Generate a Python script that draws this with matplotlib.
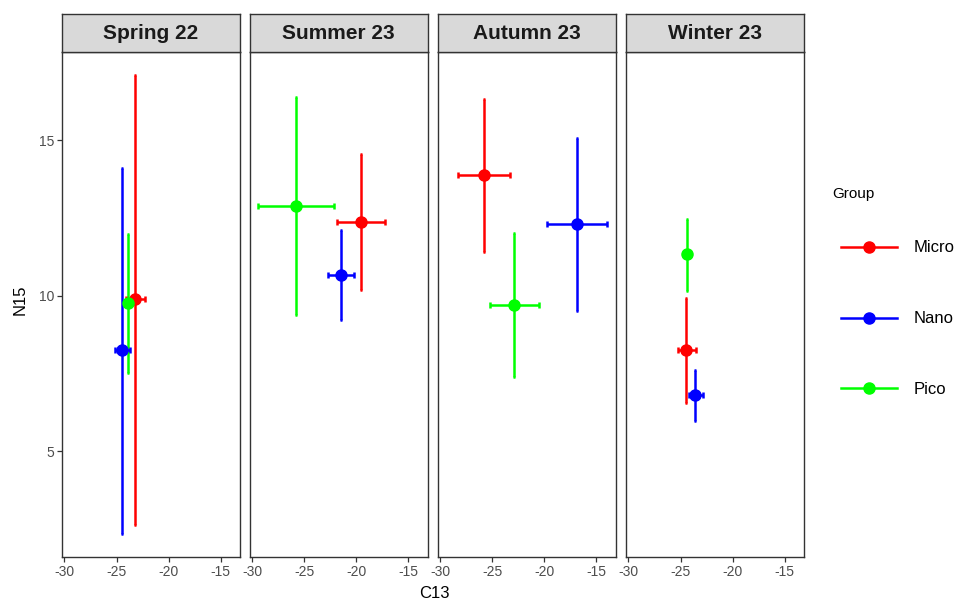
import numpy as np
import matplotlib
matplotlib.use("Agg")
import matplotlib.pyplot as plt
from matplotlib.lines import Line2D

plt.rcParams["font.family"] = ["Liberation Sans", "DejaVu Sans"]
plt.rcParams["axes.unicode_minus"] = False

seasons = ["Spring 22", "Summer 23", "Autumn 23", "Winter 23"]
groups = ["Micro", "Nano", "Pico"]
colors = {"Micro": "#FF0000", "Nano": "#0000FF", "Pico": "#00FF00"}

# one row per season x group (Micro, Nano, Pico)
season_col = ["Spring 22"] * 3 + ["Summer 23"] * 3 + ["Autumn 23"] * 3 + ["Winter 23"] * 3
group_col = groups * 4
c13_mean = [-23.24, -24.43, -23.87, -19.57, -21.44, -25.81, -25.81, -16.81, -22.86, -24.43, -23.58, -24.40]
c13_low = [-24.10, -25.16, -24.10, -21.88, -22.74, -29.46, -28.29, -19.69, -25.21, -25.20, -24.20, -24.65]
c13_high = [-22.30, -23.71, -23.60, -17.22, -20.17, -22.10, -23.24, -13.92, -20.49, -23.55, -22.85, -24.15]
n15_mean = [9.89, 8.24, 9.78, 12.39, 10.68, 12.89, 13.89, 12.32, 9.71, 8.24, 6.80, 11.33]
n15_low = [2.61, 2.33, 7.53, 10.20, 9.22, 9.37, 11.41, 9.50, 7.37, 6.56, 5.98, 10.17]
n15_high = [17.11, 14.13, 11.98, 14.56, 12.11, 16.41, 16.33, 15.08, 12.03, 9.94, 7.61, 12.47]

# ggplot-style 5% expansion of the shared scales
xr = max(c13_high) - min(c13_low)
xlim = (min(c13_low) - 0.05 * xr, max(c13_high) + 0.05 * xr)
yr = max(n15_high) - min(n15_low)
ylim = (min(n15_low) - 0.05 * yr, max(n15_high) + 0.05 * yr)

W, H = 965, 599
fig = plt.figure(figsize=(W / 100, H / 100), dpi=100, facecolor="white")

lefts = [62, 249.5, 437.5, 626]
pw = 178
top, bottom = 52, 557
strip_top = 13.5
edge = "#333333"

for i, season in enumerate(seasons):
    ax = fig.add_axes([lefts[i] / W, 1 - bottom / H, pw / W, (bottom - top) / H])
    for g in groups:
        k = [j for j in range(len(season_col)) if season_col[j] == season and group_col[j] == g][0]
        c = colors[g]
        ax.errorbar(c13_mean[k], n15_mean[k],
                    yerr=[[n15_mean[k] - n15_low[k]], [n15_high[k] - n15_mean[k]]],
                    fmt="none", ecolor=c, elinewidth=1.8, capsize=0.9, capthick=1.8, zorder=2)
        ax.errorbar(c13_mean[k], n15_mean[k],
                    xerr=[[c13_mean[k] - c13_low[k]], [c13_high[k] - c13_mean[k]]],
                    fmt="none", ecolor=c, elinewidth=1.8, capsize=2.4, capthick=1.8, zorder=3)
        ax.plot(c13_mean[k], n15_mean[k], "o", color=c, ms=8, zorder=4)
    ax.set_xlim(xlim)
    ax.set_ylim(ylim)
    ax.set_xticks([-30, -25, -20, -15])
    ax.set_yticks([5, 10, 15])
    ax.tick_params(length=3.5, width=0.9, color=edge, labelcolor="#4D4D4D", labelsize=10, pad=2)
    if i > 0:
        ax.tick_params(axis="y", left=False, labelleft=False)
    for s in ax.spines.values():
        s.set_color(edge)
        s.set_linewidth(1.0)

    sax = fig.add_axes([lefts[i] / W, 1 - top / H, pw / W, (top - strip_top) / H], facecolor="#D9D9D9")
    sax.set_xticks([])
    sax.set_yticks([])
    for s in sax.spines.values():
        s.set_color(edge)
        s.set_linewidth(1.0)
    sax.text(0.5, 0.48, season, transform=sax.transAxes, ha="center", va="center",
             fontsize=15, fontweight="bold", color="#1A1A1A")

fig.text(434 / W, 1 - 593 / H, "C13", ha="center", va="center", fontsize=12, color="black")
fig.text(20 / W, 1 - 300 / H, "N15", ha="center", va="center", rotation=90, fontsize=12, color="black")

handles = [Line2D([0], [0], color=colors[g], lw=1.8, marker="o", ms=8) for g in groups]
leg = fig.legend(handles, groups, title="Group", loc="upper left",
                 bbox_to_anchor=(834 / W, 1 - 164 / H), frameon=False,
                 fontsize=12, title_fontsize=11, handlelength=3.4, handletextpad=1.0,
                 labelspacing=3.35, borderaxespad=0)
leg._legend_box.align = "left"
leg.get_title().set_position((-8, -16.5))

fig.savefig("out.png", dpi=100, facecolor="white")
